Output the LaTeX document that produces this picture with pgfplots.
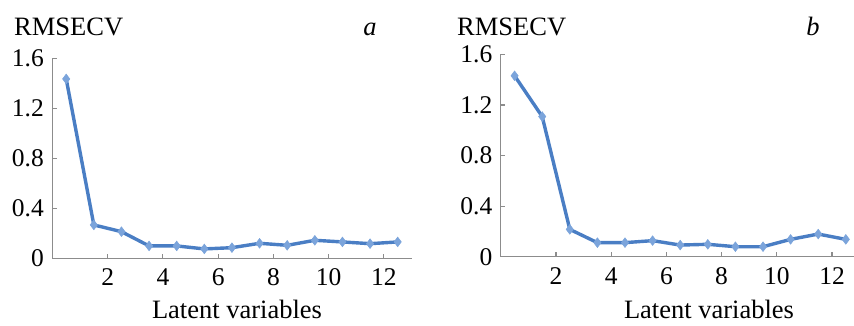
\documentclass[border=0pt]{standalone}
\usepackage{pgfplots}
\pgfplotsset{compat=1.18}
\usepackage{fontspec}
\setmainfont{Liberation Serif}
\definecolor{lineblue}{HTML}{4A7EC4}
\definecolor{markblue}{HTML}{7BA4DB}
\definecolor{axgray}{HTML}{8C8C8C}
\begin{document}
\begin{tikzpicture}[every node/.style={font=\fontsize{26.5}{31}\selectfont}]
\useasboundingbox (0,0) rectangle (854pt,325pt);
\pgfplotsset{
  panel/.style={
    scale only axis, anchor=south west,
    xmin=0, xmax=13, ymin=0, ymax=1.6,
    axis lines=left,
    axis line style={axgray, line width=1.2pt, -},
    xtick={2,4,6,8,10,12},
    ytick={0,0.4,0.8,1.2,1.6},
    yticklabels={0,0.4,0.8,1.2,1.6},
    tick style={axgray, line width=1.2pt},
    major tick length=4.5pt,
    tick align=inside,
    ticklabel style={font=\fontsize{25.5}{30}\selectfont},
    /pgf/number format/assume math mode=true,
    xticklabel style={yshift=-7pt},
    yticklabel style={xshift=-5pt},
    clip=false,
  },
  series/.style={lineblue, line width=3.4pt, mark=diamond*, mark size=4.8pt,
    mark options={fill=markblue, draw=markblue, line width=0.6pt}},
}
\begin{axis}[panel, at={(52.4pt,66.7pt)}, width=359.1pt, height=200pt]
\addplot[series] coordinates {
(0.5,1.435) (1.5,0.267) (2.5,0.213) (3.5,0.099) (4.5,0.099) (5.5,0.075) (6.5,0.085)
(7.5,0.120) (8.5,0.104) (9.5,0.144) (10.5,0.131) (11.5,0.117) (12.5,0.131)
};
\end{axis}
\begin{axis}[panel, at={(500.8pt,68.3pt)}, width=358.8pt, height=202.4pt]
\addplot[series] coordinates {
(0.5,1.430) (1.5,1.108) (2.5,0.216) (3.5,0.111) (4.5,0.111) (5.5,0.127) (6.5,0.092)
(7.5,0.098) (8.5,0.079) (9.5,0.079) (10.5,0.137) (11.5,0.179) (12.5,0.137)
};
\end{axis}
\node[anchor=base west, inner sep=0] at (14pt,290pt) {RMSECV};
\node[anchor=base, inner sep=0, font=\fontsize{26.5}{31}\selectfont\itshape] at (370pt,290pt) {a};
\node[anchor=base west, inner sep=0] at (457pt,290pt) {RMSECV};
\node[anchor=base, inner sep=0, font=\fontsize{26.5}{31}\selectfont\itshape] at (813pt,290pt) {b};
\node[anchor=base, inner sep=0] at (237pt,6.5pt) {Latent variables};
\node[anchor=base, inner sep=0] at (709pt,6.5pt) {Latent variables};
\end{tikzpicture}
\end{document}
